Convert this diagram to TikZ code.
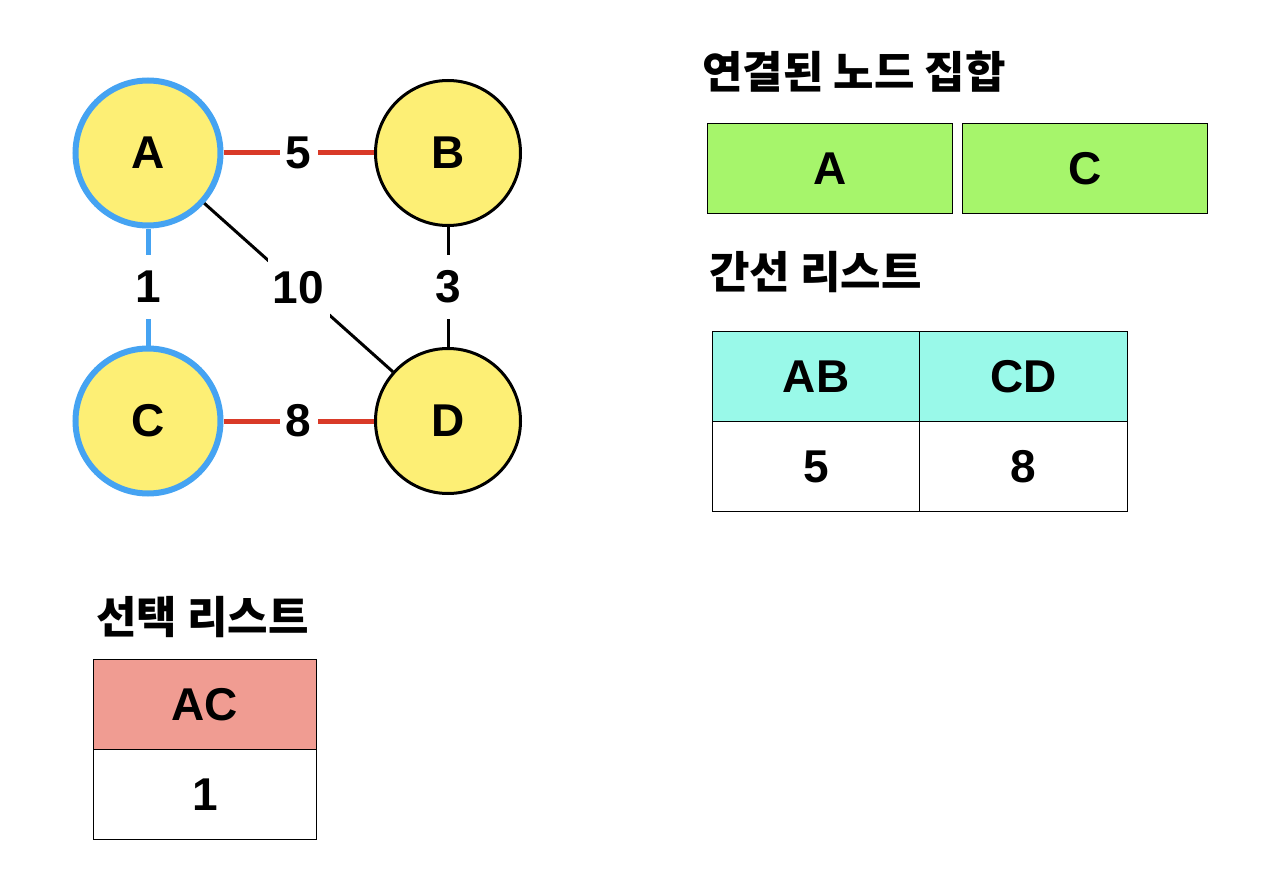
\documentclass[tikz,border=0pt]{standalone}
\usepackage{fontspec}
\setmainfont{Liberation Sans}
\newfontfamily\kfont{Noto Sans CJK KR}
\definecolor{nodeyellow}{HTML}{FDEF75}
\definecolor{selblue}{HTML}{45A3F2}
\definecolor{edgered}{HTML}{D93A28}
\definecolor{setgreen}{HTML}{A6F56B}
\definecolor{headcyan}{HTML}{99F9E9}
\definecolor{headsalmon}{HTML}{F09C92}
\tikzset{
  vtx/.style={circle, minimum size=145pt, inner sep=0pt, fill=nodeyellow, draw=black, line width=3pt,
    font=\fontsize{46}{54}\selectfont\bfseries},
  selvtx/.style={vtx, draw=selblue, line width=6pt},
  plainedge/.style={draw=black, line width=3pt},
  rededge/.style={draw=edgered, line width=5pt},
  blueedge/.style={draw=selblue, line width=5pt},
  wlabel/.style={fill=white, inner sep=0pt, minimum width=38pt, minimum height=64pt,
    text=black, font=\fontsize{46}{54}\selectfont\bfseries},
  title/.style={anchor=west, inner sep=0pt, font=\kfont\fontsize{44}{50}\selectfont\bfseries},
  cell/.style={draw=black, line width=1pt, inner sep=0pt, minimum height=90pt,
    font=\fontsize{46}{54}\selectfont\bfseries},
}
\begin{document}
\begin{tikzpicture}[x=1pt,y=-1pt]
\useasboundingbox (0,0) rectangle (1272,880);
% graph
\node[selvtx] (A) at (148,153) {A};
\node[vtx] (B) at (448,153) {B};
\node[selvtx] (C) at (148,421) {C};
\node[vtx] (D) at (448,421) {D};
\draw[rededge] (A) -- node[wlabel] (lab5) {5} (B);
\draw[rededge] (C) -- node[wlabel] (lab8) {8} (D);
\draw[blueedge] (A) -- node[wlabel] (lab1) {1} (C);
\draw[plainedge] (B) -- node[wlabel] (lab3) {3} (D);
\draw[plainedge] (A) -- node[wlabel, minimum width=62pt] (lab10) {10} (D);
% connected node set
\node[title] (t1) at (702,72) {연결된 노드 집합};
\node[cell, fill=setgreen, minimum width=245pt, anchor=north west] (sA) at (707,123) {A};
\node[cell, fill=setgreen, minimum width=245pt, anchor=north west] (sC) at (962,123) {C};
% edge list
\node[title] (t2) at (709,272) {간선 리스트};
\node[cell, fill=headcyan, minimum width=207pt, anchor=north west] (hAB) at (712,331) {AB};
\node[cell, fill=headcyan, minimum width=208pt, anchor=north west] (hCD) at (919,331) {CD};
\node[cell, fill=white, minimum width=207pt, anchor=north west] (vAB) at (712,421) {5};
\node[cell, fill=white, minimum width=208pt, anchor=north west] (vCD) at (919,421) {8};
% selected list
\node[title] (t3) at (96,617) {선택 리스트};
\node[cell, fill=headsalmon, minimum width=223pt, anchor=north west] (hAC) at (93,659) {AC};
\node[cell, fill=white, minimum width=223pt, anchor=north west] (vAC) at (93,749) {1};
\end{tikzpicture}
\end{document}
